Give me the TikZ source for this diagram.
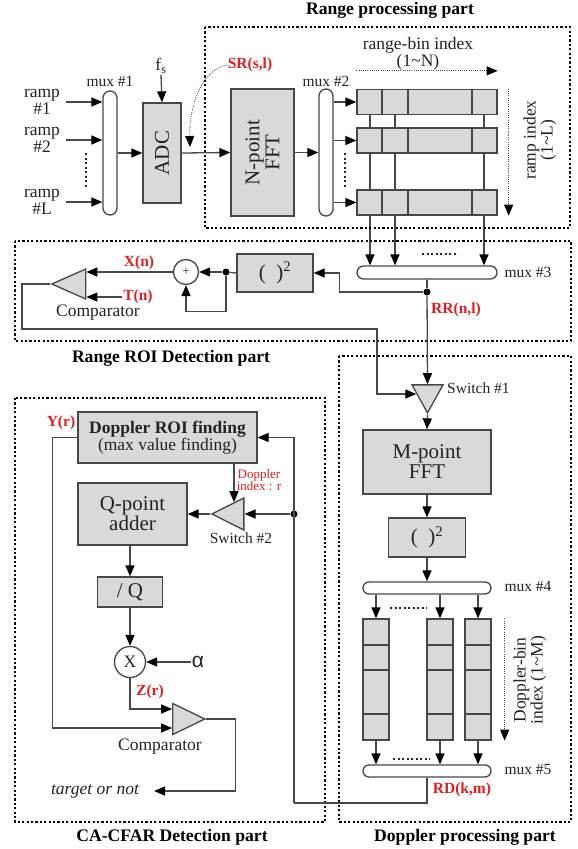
\documentclass[tikz,border=0pt]{standalone}
\usepackage{fontspec}
\setmainfont{Liberation Serif}
\setsansfont{Liberation Sans}
\usetikzlibrary{shapes.geometric, arrows.meta, positioning, backgrounds, calc}

\definecolor{boxgray}{RGB}{217,217,217}
\definecolor{linegray}{RGB}{72,72,72}
\definecolor{lblred}{RGB}{225,30,35}
\definecolor{txtgray}{RGB}{35,35,35}

\newcommand{\fmain}{\fontsize{17.5}{17}\selectfont}
\newcommand{\fmux}{\fontsize{15.5}{16}\selectfont}
\newcommand{\fbig}{\fontsize{21}{20}\selectfont}
\newcommand{\fred}{\fontsize{15.5}{16}\selectfont\bfseries}
\newcommand{\ftitle}{\fontsize{17.6}{18}\selectfont\bfseries}

\begin{document}
\begin{tikzpicture}[
    x=1pt, y=-1pt,
    block/.style={rectangle, draw=linegray, fill=boxgray, line width=1.3pt, inner sep=0pt, align=center, text=txtgray, font=\fbig},
    muxbox/.style={rectangle, draw=linegray, fill=white, line width=1.3pt, inner sep=0pt},
    cell/.style={rectangle, draw=linegray, fill=boxgray, line width=1.3pt, inner sep=0pt},
    tri/.style={isosceles triangle, isosceles triangle stretches, draw=linegray, fill=boxgray, line width=1.3pt, inner sep=0pt},
    dotnode/.style={circle, fill=black, inner sep=0pt, minimum size=7pt},
    lbl/.style={font=\fmain, text=txtgray, align=center, inner sep=1pt},
    muxlbl/.style={font=\fmux, text=txtgray, inner sep=1pt},
    redlbl/.style={font=\fred, text=lblred, inner sep=1pt},
    title/.style={font=\ftitle, text=black},
    part/.style={draw=black, line width=2.2pt, dash pattern=on 2.2pt off 2.2pt},
    line/.style={draw=linegray, line width=1.3pt},
    arrow/.style={line, -{Triangle[length=11pt, width=9pt, color=black]}},
    idxarrow/.style={draw=linegray, line width=0.8pt, dash pattern=on 1pt off 1.2pt, -{Triangle[length=11pt, width=9pt, color=black]}},
    dots/.style={draw=black!85, line width=2pt, dash pattern=on 2pt off 2.5pt}
]
\useasboundingbox (0,0) rectangle (578,849);

% Range processing part
\node[lbl] (ramp1) at (42,102) {ramp\\\#1};
\node[lbl] (ramp2) at (42,140) {ramp\\\#2};
\node[lbl] (rampL) at (42,202) {ramp\\\#L};
\node[muxbox, rounded corners=7pt, minimum width=14pt, minimum height=124pt] (mux1) at (110,153) {};
\node[muxlbl] (mux1lbl) at (110,81) {mux \#1};
\node[block, minimum width=38pt, minimum height=100pt] (adc) at (162,153) {};
\node[rotate=90, font=\fbig, text=txtgray] (adctxt) at (adc) {ADC};
\node[lbl] (fs) at (161,66) {f\textsubscript{s}};
\node[block, minimum width=63pt, minimum height=127pt] (fft) at (262.5,152.5) {};
\node[rotate=90, font=\fbig, text=txtgray, align=center] (ffttxt) at (fft) {N-point\\FFT};
\node[redlbl] (sr) at (250,65) {SR(s,l)};
\coordinate (srtip) at (190,147);
\node[muxbox, rounded corners=7pt, minimum width=14pt, minimum height=127pt] (mux2) at (326,152.5) {};
\node[muxlbl] (mux2lbl) at (326,81) {mux \#2};
\foreach \r/\y in {1/102, 2/140.5, L/202.5} {
  \node[cell, minimum width=140pt, minimum height=25pt] (row\r) at (427,\y) {};
  \foreach \cx in {382,408,472}
    \draw[line] (\cx,\y-12.5) -- (\cx,\y+12.5);
}
\node[lbl] (rbin) at (418,54) {range-bin index\\(1\textasciitilde N)};
\node[lbl, rotate=90] (ridx) at (540,140) {ramp index\\(1\textasciitilde L)};

% Range ROI detection part
\node[muxbox, rounded corners=6.5pt, minimum width=140pt, minimum height=13pt] (mux3) at (427,272.5) {};
\node[muxlbl] (mux3lbl) at (528,272) {mux \#3};
\node[dotnode] (rrdot) at (427,292) {};
\node[redlbl] (rr) at (456,310) {RR(n,l)};
\node[block, minimum width=76pt, minimum height=38pt] (sq1) at (275,273) {(\hspace{0.5em})\textsuperscript{2}};
\node[dotnode] (fbdot) at (226,272) {};
\node[circle, draw=linegray, fill=white, line width=1.3pt, minimum size=25pt, inner sep=0pt, font=\fontsize{13}{13}\selectfont, text=txtgray] (adder) at (186,272) {+};
\node[tri, shape border rotate=180, minimum width=30pt, minimum height=34pt] (comp1) at (76,284) {};
\node[redlbl] (xn) at (139,263) {X(n)};
\node[redlbl] (tn) at (138,297) {T(n)};
\node[lbl] (comp1lbl) at (98,313) {Comparator};
\coordinate (ctrlturn) at (377,329);

% Doppler processing part
\node[tri, shape border rotate=270, minimum width=31pt, minimum height=28pt] (sw1) at (427.5,394) {};
\node[muxlbl, anchor=west] (sw1lbl) at (446,388) {Switch \#1};
\node[block, minimum width=128pt, minimum height=64pt] (mfft) at (427,462) {M-point\\FFT};
\node[block, minimum width=77pt, minimum height=39pt] (sq2) at (427,537.5) {(\hspace{0.5em})\textsuperscript{2}};
\node[muxbox, rounded corners=6pt, minimum width=128pt, minimum height=12pt] (mux4) at (427,588) {};
\node[muxlbl] (mux4lbl) at (528,586) {mux \#4};
\foreach \c/\cx in {1/376, 2/440, 3/478} {
  \node[cell, minimum width=26pt, minimum height=121pt] (col\c) at (\cx,679.5) {};
  \foreach \cy in {645,670,714}
    \draw[line] (\cx-13,\cy) -- (\cx+13,\cy);
}
\node[muxbox, rounded corners=6pt, minimum width=128pt, minimum height=12pt] (mux5) at (427,771) {};
\node[muxlbl] (mux5lbl) at (528,769) {mux \#5};
\node[lbl, rotate=90] (dbin) at (530,680) {Doppler-bin\\index (1\textasciitilde M)};
\node[redlbl] (rd) at (462,790) {RD(k,m)};
\coordinate (rdturn) at (294,803);
\node[dotnode] (ddot) at (294,514) {};

% CA-CFAR detection part
\node[block, minimum width=179pt, minimum height=51pt, font=\fmain] (droi) at (167.5,437.5) {\textbf{Doppler ROI finding}\\(max value finding)};
\node[redlbl] (yr) at (61,423) {Y(r)};
\node[tri, shape border rotate=180, minimum width=32pt, minimum height=32pt] (sw2) at (234,514) {};
\node[muxlbl] (sw2lbl) at (241,538) {Switch \#2};
\node[lbl, text=lblred, font=\fontsize{13}{12.5}\selectfont] (didx) at (259,480) {Doppler\\index : r};
\node[block, minimum width=109pt, minimum height=62pt] (qadd) at (132.5,514) {Q-point\\adder};
\node[block, minimum width=65pt, minimum height=30pt] (divq) at (130,592) {/ Q};
\node[circle, draw=linegray, fill=white, line width=1.3pt, minimum size=31pt, inner sep=0pt, font=\fmain, text=txtgray] (mult) at (130,662) {X};
\node[lbl, font=\fontsize{21}{21}\selectfont\sffamily] (alpha) at (198,662) {α};
\node[redlbl] (zr) at (150,692) {Z(r)};
\node[tri, minimum width=31pt, minimum height=32pt] (comp2) at (182.5,719) {};
\node[lbl] (comp2lbl) at (160,747) {Comparator};
\node[lbl, font=\fmain\itshape] (target) at (95,791) {target or not};

% Part frames and titles
\draw[part] (205,27) rectangle (570,228);
\draw[part] (15,241) rectangle (571,341);
\draw[part] (15,398) rectangle (325,822);
\draw[part] (339,356) rectangle (571,822);
\node[title] (t1) at (390,10) {Range processing part};
\node[title] (t2) at (171,358) {Range ROI Detection part};
\node[title] (t3) at (172,837) {CA-CFAR Detection part};
\node[title] (t4) at (465,837) {Doppler processing part};

% Connections
\begin{scope}[on background layer]
  \fill[white] (0,0) rectangle (578,849);
  \foreach \cx [count=\i] in {370,395,484} {
    \coordinate (rc\i) at (\cx,115);
    \draw[arrow] (rc\i) -- (rc\i |- mux3.north);
  }
\end{scope}
\foreach \r in {1,2,L}
  \draw[arrow] ([xshift=5pt]ramp\r.east) -- (mux1.west |- ramp\r.east);
\draw[dots] (86,153) -- (86,188);
\draw[dots] (345,153) -- (345,188);
\draw[arrow] (mux1.east) -- (adc.west);
\draw[arrow] (fs.south) -- (adc.north);
\draw[arrow] (adc.east) -- (fft.west);
\draw[idxarrow] (sr.west) .. controls (200,70) and (189,110) .. (srtip);
\draw[arrow] (fft.east) -- (mux2.west);
\foreach \r in {1,2,L}
  \draw[arrow] (mux2.east |- row\r) -- (row\r.west);
\draw[idxarrow] ([yshift=18pt]row1.north west) -- ([yshift=18pt]row1.north east);
\draw[idxarrow] ([xshift=11pt]row1.north east) -- ([xshift=11pt]rowL.south east);

\draw[dots] (422,254) -- (458,254);
\draw[line] (mux3.south) -- (rrdot);
\draw[arrow] (rrdot) -| ([xshift=26pt]sq1.east) -- (sq1.east);
\draw[line] (sq1.west) -- (fbdot);
\draw[arrow] (fbdot) -- (adder.east);
\draw[arrow] (fbdot) |- ([yshift=-26pt]adder.south) -- (adder.south);
\draw[arrow] (adder.west) -- (comp1.east |- adder.west);
\draw[arrow] (tn.west) -- (comp1.east |- tn.west);
\draw[arrow] (comp1.apex) -- ++(-28,0) |- (ctrlturn) |- (sw1.west);

\draw[arrow] (rrdot) -- (sw1.north);
\draw[arrow] (sw1.apex) -- (mfft.north);
\draw[arrow] (mfft.south) -- (sq2.north);
\draw[arrow] (sq2.south) -- (mux4.north);
\foreach \c in {1,2,3} {
  \draw[arrow] (mux4.south -| col\c) -- (col\c.north);
  \draw[arrow] (col\c.south) -- (mux5.north -| col\c);
}
\draw[dots] (390,608) -- (427,608);
\draw[dots] (393,759) -- (430,759);
\draw[idxarrow] ([xshift=13pt]col3.north east) -- ([xshift=13pt]col3.south east);
\draw[line] (mux5.south) |- (rdturn);
\draw[arrow] (rdturn) |- (droi.east);

\draw[arrow] (ddot) -- (sw2.east);
\draw[arrow] (droi.south -| sw2.north) -- (sw2.north);
\draw[arrow] (sw2.apex) -- (qadd.east);
\draw[arrow] (divq.north |- qadd.south) -- (divq.north);
\draw[arrow] (divq.south) -- (mult.north);
\draw[arrow] (alpha.west) -- (mult.east);
\draw[arrow] (mult.south) |- ([yshift=10pt]comp2.west);
\draw[arrow] (droi.west) -- ++(-25,0) |- ([yshift=-9pt]comp2.west);
\draw[arrow] (comp2.apex) -- ++(29,0) |- ([xshift=14pt]target.east);

\end{tikzpicture}
\end{document}
